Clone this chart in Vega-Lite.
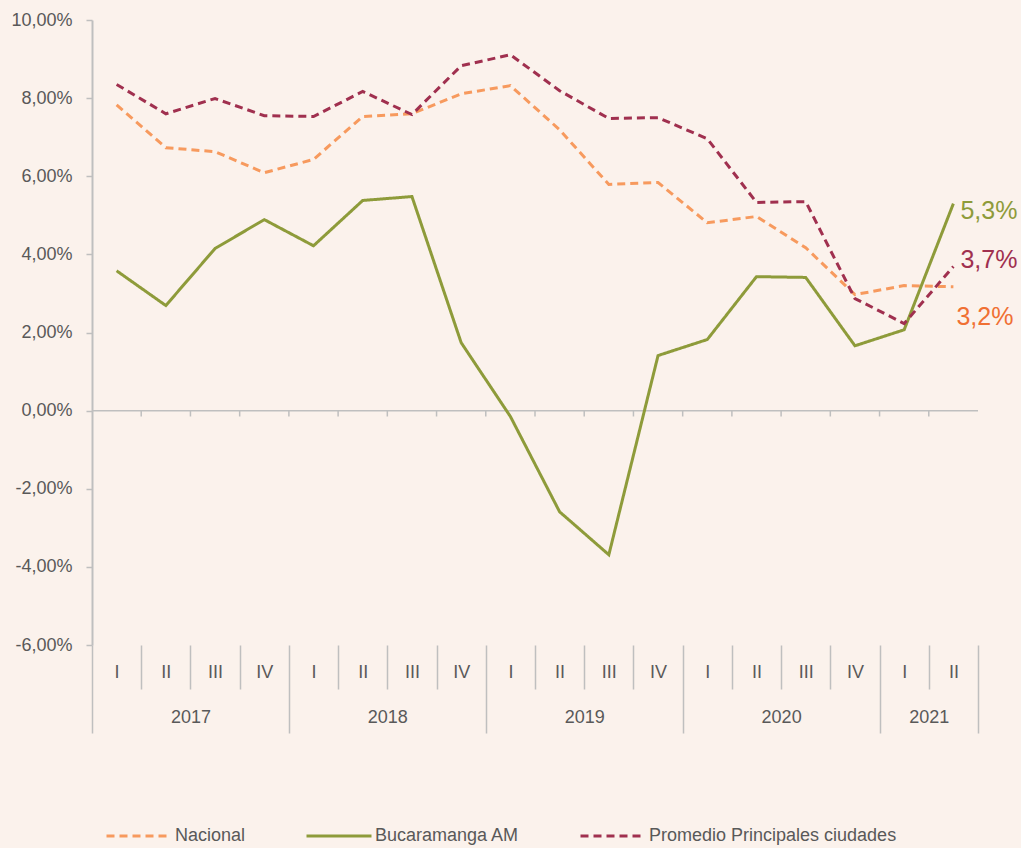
{
  "$schema": "https://vega.github.io/schema/vega-lite/v6.json",
  "width": 886,
  "height": 625,
  "autosize": {"type": "none"},
  "padding": {"left": 92, "top": 20, "right": 43, "bottom": 203},
  "background": "#FBF2EC",
  "config": {
    "view": {"stroke": null},
    "font": "Liberation Sans",
    "axis": {"labelFont": "Liberation Sans", "labelColor": "#595959", "labelFontSize": 18, "grid": false, "title": null}
  },
  "datasets": {
    "series": [
      {"t": 1, "year": 2017, "quarter": "I", "series": "Nacional", "value": 7.83},
      {"t": 2, "year": 2017, "quarter": "II", "series": "Nacional", "value": 6.73},
      {"t": 3, "year": 2017, "quarter": "III", "series": "Nacional", "value": 6.63},
      {"t": 4, "year": 2017, "quarter": "IV", "series": "Nacional", "value": 6.09},
      {"t": 5, "year": 2018, "quarter": "I", "series": "Nacional", "value": 6.43},
      {"t": 6, "year": 2018, "quarter": "II", "series": "Nacional", "value": 7.53},
      {"t": 7, "year": 2018, "quarter": "III", "series": "Nacional", "value": 7.60},
      {"t": 8, "year": 2018, "quarter": "IV", "series": "Nacional", "value": 8.11},
      {"t": 9, "year": 2019, "quarter": "I", "series": "Nacional", "value": 8.32},
      {"t": 10, "year": 2019, "quarter": "II", "series": "Nacional", "value": 7.19},
      {"t": 11, "year": 2019, "quarter": "III", "series": "Nacional", "value": 5.79},
      {"t": 12, "year": 2019, "quarter": "IV", "series": "Nacional", "value": 5.84},
      {"t": 13, "year": 2020, "quarter": "I", "series": "Nacional", "value": 4.81},
      {"t": 14, "year": 2020, "quarter": "II", "series": "Nacional", "value": 4.97},
      {"t": 15, "year": 2020, "quarter": "III", "series": "Nacional", "value": 4.17},
      {"t": 16, "year": 2020, "quarter": "IV", "series": "Nacional", "value": 2.97},
      {"t": 17, "year": 2021, "quarter": "I", "series": "Nacional", "value": 3.20},
      {"t": 18, "year": 2021, "quarter": "II", "series": "Nacional", "value": 3.17},
      {"t": 1, "year": 2017, "quarter": "I", "series": "Bucaramanga AM", "value": 3.58},
      {"t": 2, "year": 2017, "quarter": "II", "series": "Bucaramanga AM", "value": 2.69},
      {"t": 3, "year": 2017, "quarter": "III", "series": "Bucaramanga AM", "value": 4.15},
      {"t": 4, "year": 2017, "quarter": "IV", "series": "Bucaramanga AM", "value": 4.89},
      {"t": 5, "year": 2018, "quarter": "I", "series": "Bucaramanga AM", "value": 4.22},
      {"t": 6, "year": 2018, "quarter": "II", "series": "Bucaramanga AM", "value": 5.38},
      {"t": 7, "year": 2018, "quarter": "III", "series": "Bucaramanga AM", "value": 5.48},
      {"t": 8, "year": 2018, "quarter": "IV", "series": "Bucaramanga AM", "value": 1.74},
      {"t": 9, "year": 2019, "quarter": "I", "series": "Bucaramanga AM", "value": -0.15},
      {"t": 10, "year": 2019, "quarter": "II", "series": "Bucaramanga AM", "value": -2.59},
      {"t": 11, "year": 2019, "quarter": "III", "series": "Bucaramanga AM", "value": -3.69},
      {"t": 12, "year": 2019, "quarter": "IV", "series": "Bucaramanga AM", "value": 1.41},
      {"t": 13, "year": 2020, "quarter": "I", "series": "Bucaramanga AM", "value": 1.82},
      {"t": 14, "year": 2020, "quarter": "II", "series": "Bucaramanga AM", "value": 3.43},
      {"t": 15, "year": 2020, "quarter": "III", "series": "Bucaramanga AM", "value": 3.41},
      {"t": 16, "year": 2020, "quarter": "IV", "series": "Bucaramanga AM", "value": 1.66},
      {"t": 17, "year": 2021, "quarter": "I", "series": "Bucaramanga AM", "value": 2.07},
      {"t": 18, "year": 2021, "quarter": "II", "series": "Bucaramanga AM", "value": 5.30},
      {"t": 1, "year": 2017, "quarter": "I", "series": "Promedio Principales ciudades", "value": 8.35},
      {"t": 2, "year": 2017, "quarter": "II", "series": "Promedio Principales ciudades", "value": 7.60},
      {"t": 3, "year": 2017, "quarter": "III", "series": "Promedio Principales ciudades", "value": 7.99},
      {"t": 4, "year": 2017, "quarter": "IV", "series": "Promedio Principales ciudades", "value": 7.55},
      {"t": 5, "year": 2018, "quarter": "I", "series": "Promedio Principales ciudades", "value": 7.53},
      {"t": 6, "year": 2018, "quarter": "II", "series": "Promedio Principales ciudades", "value": 8.17},
      {"t": 7, "year": 2018, "quarter": "III", "series": "Promedio Principales ciudades", "value": 7.58},
      {"t": 8, "year": 2018, "quarter": "IV", "series": "Promedio Principales ciudades", "value": 8.83},
      {"t": 9, "year": 2019, "quarter": "I", "series": "Promedio Principales ciudades", "value": 9.11},
      {"t": 10, "year": 2019, "quarter": "II", "series": "Promedio Principales ciudades", "value": 8.19},
      {"t": 11, "year": 2019, "quarter": "III", "series": "Promedio Principales ciudades", "value": 7.48},
      {"t": 12, "year": 2019, "quarter": "IV", "series": "Promedio Principales ciudades", "value": 7.50},
      {"t": 13, "year": 2020, "quarter": "I", "series": "Promedio Principales ciudades", "value": 6.96},
      {"t": 14, "year": 2020, "quarter": "II", "series": "Promedio Principales ciudades", "value": 5.33},
      {"t": 15, "year": 2020, "quarter": "III", "series": "Promedio Principales ciudades", "value": 5.35},
      {"t": 16, "year": 2020, "quarter": "IV", "series": "Promedio Principales ciudades", "value": 2.87},
      {"t": 17, "year": 2021, "quarter": "I", "series": "Promedio Principales ciudades", "value": 2.23},
      {"t": 18, "year": 2021, "quarter": "II", "series": "Promedio Principales ciudades", "value": 3.69}
    ],
    "bounds": [
      {"b": 1.5}, {"b": 2.5}, {"b": 3.5}, {"b": 4.5}, {"b": 5.5}, {"b": 6.5}, {"b": 7.5}, {"b": 8.5},
      {"b": 9.5}, {"b": 10.5}, {"b": 11.5}, {"b": 12.5}, {"b": 13.5}, {"b": 14.5}, {"b": 15.5}, {"b": 16.5}, {"b": 17.5}
    ],
    "zero": [{"v": 0}]
  },
  "resolve": {"axis": {"x": "independent"}},
  "layer": [
    {
      "data": {"name": "zero"},
      "mark": {"type": "rule", "color": "#BFBFBF", "strokeWidth": 1.5},
      "encoding": {
        "y": {"field": "v", "type": "quantitative",
          "scale": {"domain": [-6, 10], "nice": false},
          "axis": {"values": [-6, -4, -2, 0, 2, 4, 6, 8, 10], "labelExpr": "(datum.value < 0 ? '-' : '') + replace(format(abs(datum.value), '.2f'), '.', ',') + '%'",
            "tickSize": 6, "tickColor": "#BFBFBF", "tickWidth": 1.5, "domainColor": "#BFBFBF", "domainWidth": 2, "labelPadding": 14, "title": null}}
      }
    },
    {
      "data": {"name": "bounds"},
      "mark": {"type": "rule", "color": "#BFBFBF", "strokeWidth": 1.5},
      "encoding": {
        "x": {"field": "b", "type": "quantitative",
          "scale": {"domain": [0.5, 18.5], "nice": false, "zero": false},
          "axis": {"orient": "bottom", "values": [1.5, 2.5, 3.5, 5.5, 6.5, 7.5, 9.5, 10.5, 11.5, 13.5, 14.5, 15.5, 17.5], "tickSize": 44, "tickColor": "#BFBFBF", "tickWidth": 1.5, "labels": false, "domain": false, "title": null}},
        "y": {"datum": 0, "type": "quantitative",
          "axis": {"values": [-6, -4, -2, 0, 2, 4, 6, 8, 10], "labelExpr": "(datum.value < 0 ? '-' : '') + replace(format(abs(datum.value), '.2f'), '.', ',') + '%'",
            "tickSize": 6, "tickColor": "#BFBFBF", "tickWidth": 1.5, "domainColor": "#BFBFBF", "domainWidth": 2, "labelPadding": 14, "title": null}},
        "y2": {"datum": -0.15}
      }
    },
    {
      "data": {"name": "series"},
      "mark": {"type": "line", "strokeWidth": 3},
      "encoding": {
        "x": {"field": "t", "type": "quantitative",
          "axis": {"orient": "bottom", "values": [1,2,3,4,5,6,7,8,9,10,11,12,13,14,15,16,17,18],
            "labelExpr": "['IV','I','II','III'][datum.value % 4]", "ticks": false, "tickSize": 0, "labelPadding": 18, "domain": false, "title": null}},
        "y": {"field": "value", "type": "quantitative",
          "axis": {"values": [-6, -4, -2, 0, 2, 4, 6, 8, 10], "labelExpr": "(datum.value < 0 ? '-' : '') + replace(format(abs(datum.value), '.2f'), '.', ',') + '%'",
            "tickSize": 6, "tickColor": "#BFBFBF", "tickWidth": 1.5, "domainColor": "#BFBFBF", "domainWidth": 2, "labelPadding": 14, "title": null}},
        "color": {"field": "series", "type": "nominal",
          "scale": {"domain": ["Nacional", "Bucaramanga AM", "Promedio Principales ciudades"], "range": ["#F79A5E", "#8E9B3A", "#A0304F"]},
          "legend": {"orient": "none", "legendX": 13, "legendY": 782, "direction": "horizontal", "title": null,
            "symbolType": "stroke", "symbolStrokeWidth": 3, "symbolSize": 4225, "labelFontSize": 18, "labelColor": "#595959",
            "labelFont": "Liberation Sans", "labelOffset": 2, "labelLimit": 500, "columnPadding": 54}},
        "strokeDash": {"field": "series", "type": "nominal",
          "scale": {"domain": ["Nacional", "Bucaramanga AM", "Promedio Principales ciudades"], "range": [[8, 5], [1, 0], [8, 5]]},
          "legend": {"orient": "none", "legendX": 13, "legendY": 782, "direction": "horizontal", "title": null,
            "symbolType": "stroke", "symbolStrokeWidth": 3, "symbolSize": 4225, "labelFontSize": 18, "labelColor": "#595959",
            "labelFont": "Liberation Sans", "labelOffset": 2, "labelLimit": 500, "columnPadding": 54}}
      }
    },
    {
      "data": {"name": "series"},
      "transform": [{"filter": "datum.t == 18 && datum.series == 'Bucaramanga AM'"}],
      "mark": {"type": "text", "align": "left", "baseline": "middle", "dx": 7, "dy": 7, "fontSize": 25, "color": "#8E9B3A", "font": "Liberation Sans"},
      "encoding": {
        "x": {"field": "t", "type": "quantitative",
          "axis": {"orient": "bottom", "values": [2.5, 6.5, 10.5, 14.5, 17.5], "labelExpr": "'' + (2017 + floor((datum.value - 0.5) / 4))", "ticks": false, "tickSize": 0, "labelPadding": 63, "domain": false, "title": null}},
        "y": {"field": "value", "type": "quantitative",
          "axis": {"values": [-6, -4, -2, 0, 2, 4, 6, 8, 10], "labelExpr": "(datum.value < 0 ? '-' : '') + replace(format(abs(datum.value), '.2f'), '.', ',') + '%'",
            "tickSize": 6, "tickColor": "#BFBFBF", "tickWidth": 1.5, "domainColor": "#BFBFBF", "domainWidth": 2, "labelPadding": 14, "title": null}},
        "text": {"value": "5,3%"}
      }
    },
    {
      "data": {"name": "series"},
      "transform": [{"filter": "datum.t == 18 && datum.series == 'Promedio Principales ciudades'"}],
      "mark": {"type": "text", "align": "left", "baseline": "middle", "dx": 7, "dy": -6, "fontSize": 25, "color": "#A0304F", "font": "Liberation Sans"},
      "encoding": {
        "x": {"field": "t", "type": "quantitative",
          "axis": {"orient": "bottom", "values": [0.5, 4.5, 8.5, 12.5, 16.5, 18.5], "tickSize": 88, "tickColor": "#BFBFBF", "tickWidth": 1.5, "labels": false, "domain": false, "title": null}},
        "y": {"field": "value", "type": "quantitative",
          "axis": {"values": [-6, -4, -2, 0, 2, 4, 6, 8, 10], "labelExpr": "(datum.value < 0 ? '-' : '') + replace(format(abs(datum.value), '.2f'), '.', ',') + '%'",
            "tickSize": 6, "tickColor": "#BFBFBF", "tickWidth": 1.5, "domainColor": "#BFBFBF", "domainWidth": 2, "labelPadding": 14, "title": null}},
        "text": {"value": "3,7%"}
      }
    },
    {
      "data": {"name": "series"},
      "transform": [{"filter": "datum.t == 18 && datum.series == 'Nacional'"}],
      "mark": {"type": "text", "align": "left", "baseline": "middle", "dx": 3, "dy": 30, "fontSize": 25, "color": "#F07033", "font": "Liberation Sans"},
      "encoding": {
        "x": {"field": "t", "type": "quantitative", "axis": null},
        "y": {"field": "value", "type": "quantitative",
          "axis": {"values": [-6, -4, -2, 0, 2, 4, 6, 8, 10], "labelExpr": "(datum.value < 0 ? '-' : '') + replace(format(abs(datum.value), '.2f'), '.', ',') + '%'",
            "tickSize": 6, "tickColor": "#BFBFBF", "tickWidth": 1.5, "domainColor": "#BFBFBF", "domainWidth": 2, "labelPadding": 14, "title": null}},
        "text": {"value": "3,2%"}
      }
    }
  ]
}
